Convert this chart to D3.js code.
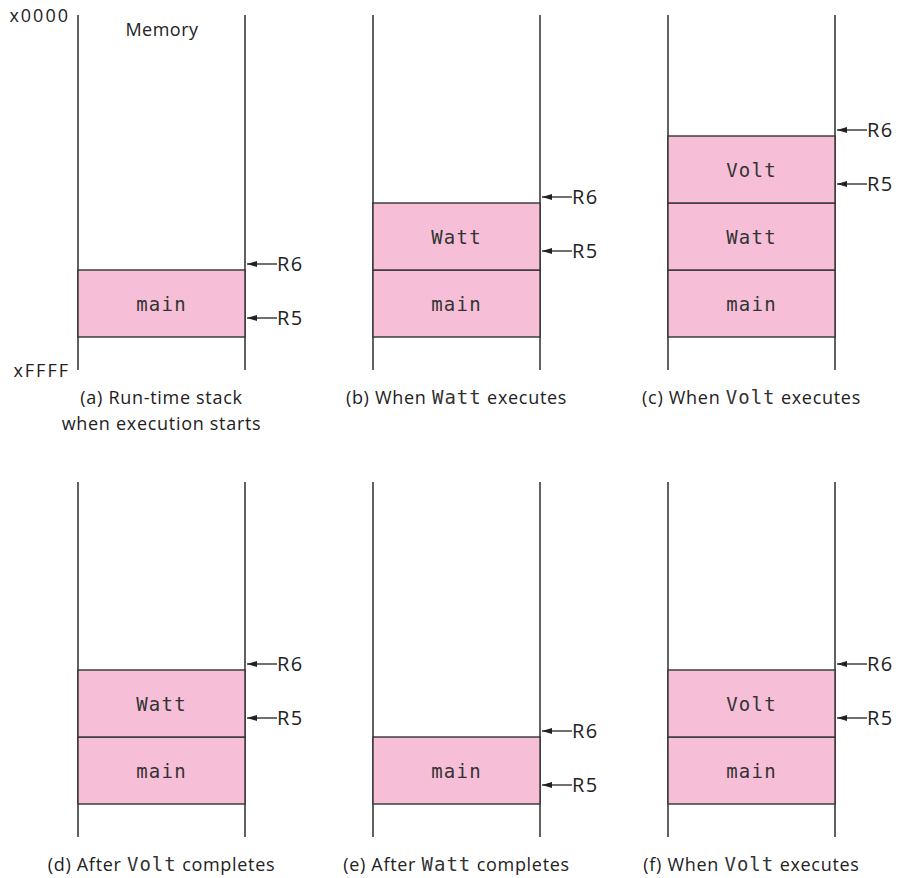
<!DOCTYPE html>
<html>
<head>
<meta charset="utf-8">
<script src="https://cdn.jsdelivr.net/npm/d3@7/dist/d3.min.js"></script>
<style>
  body { margin: 0; background: #fff; }
  .sans { font-family: "Open Sans", "Noto Sans", sans-serif; letter-spacing: 0.7px; }
  .mono { font-family: "DejaVu Sans Mono", monospace; letter-spacing: 1px; }
</style>
</head>
<body>
<div id="chart"></div>
<script>
// panels in reading order, stack frames listed from the bottom up
var panelIds = ["a", "b", "c", "d", "e", "f"];
var stacks = [
  ["main"],
  ["main", "Watt"],
  ["main", "Watt", "Volt"],
  ["main", "Watt"],
  ["main"],
  ["main", "Volt"]
];
// caption pieces: [text, isCode]
var captions = [
  [[["(a) Run-time stack", false]], [["when execution starts", false]]],
  [[["(b) When ", false], ["Watt", true], [" executes", false]]],
  [[["(c) When ", false], ["Volt", true], [" executes", false]]],
  [[["(d) After ", false], ["Volt", true], [" completes", false]]],
  [[["(e) After ", false], ["Watt", true], [" completes", false]]],
  [[["(f) When ", false], ["Volt", true], [" executes", false]]]
];
var pointers = ["R6", "R5"];
var addrLabels = ["x0000", "xFFFF"];

(function(){
  var width = 898, height = 878;
  var colW = 167;
  var lineColor = "#3a3a3a";
  var pink = "#f6bfd7";

  var svg = d3.select("#chart").append("svg")
    .attr("width", width).attr("height", height);

  // arrowhead drawn pointing along the line, line runs right-to-left
  svg.append("defs").append("marker")
    .attr("id", "head")
    .attr("viewBox", "0 0 10 6")
    .attr("refX", 10).attr("refY", 3)
    .attr("markerWidth", 10).attr("markerHeight", 6)
    .attr("markerUnits", "userSpaceOnUse")
    .attr("orient", "auto")
    .append("path").attr("d", "M0,0L10,3L0,6Z").attr("fill", "#222");

  var colX = d3.scaleLinear().domain([0, 2]).range([78, 668]);
  var rowY = d3.scaleLinear().domain([0, 1]).range([0, 467]);
  // slot index (from bottom of stack) -> y in panel
  var slotY = d3.scaleLinear().domain([0, 1]).range([337, 270]);
  var memTop = 15, memBottom = 370;

  var panels = svg.selectAll(".panel")
    .data(panelIds)
    .enter().append("g")
    .attr("class", "panel")
    .attr("transform", function(d, i){
      return "translate(" + colX(i % 3) + "," + rowY(Math.floor(i / 3)) + ")";
    });

  // memory boundaries
  panels.selectAll(".wall")
    .data([0, colW])
    .enter().append("line")
    .attr("x1", function(d){ return d; }).attr("x2", function(d){ return d; })
    .attr("y1", memTop).attr("y2", memBottom)
    .attr("stroke", lineColor).attr("stroke-width", 1.6);

  // frames
  panels.each(function(d, i){
    var g = d3.select(this);
    var frames = stacks[i];
    var fr = g.selectAll(".frame")
      .data(frames)
      .enter().append("g").attr("class", "frame");
    fr.append("rect")
      .attr("x", 0).attr("width", colW)
      .attr("y", function(f, k){ return slotY(k + 1); })
      .attr("height", slotY(0) - slotY(1))
      .attr("fill", pink)
      .attr("stroke", "#333").attr("stroke-width", 1.4);
    fr.append("text")
      .attr("class", "mono")
      .attr("x", colW / 2)
      .attr("y", function(f, k){ return (slotY(k) + slotY(k + 1)) / 2 + 7; })
      .attr("text-anchor", "middle")
      .attr("font-size", "19px")
      .attr("fill", "#333")
      .style("letter-spacing", "1.2px")
      .text(function(f){ return f; });

    // R6 above top of stack, R5 inside top frame
    var n = frames.length;
    var ptrY = [slotY(n) - 6, slotY(n - 1) - 19];
    var ptr = g.selectAll(".ptr")
      .data(pointers)
      .enter().append("g").attr("class", "ptr");
    ptr.append("line")
      .attr("x1", colW + 32).attr("x2", colW + 2)
      .attr("y1", function(p, k){ return ptrY[k]; })
      .attr("y2", function(p, k){ return ptrY[k]; })
      .attr("stroke", "#222").attr("stroke-width", 1.3)
      .attr("marker-end", "url(#head)");
    ptr.append("text")
      .attr("class", "sans")
      .attr("x", colW + 32)
      .attr("y", function(p, k){ return ptrY[k] + 7; })
      .attr("font-size", "20px")
      .attr("fill", "#222")
      .style("letter-spacing", "1.5px")
      .text(function(p){ return p; });

    // captions
    captions[i].forEach(function(line, li){
      var t = g.append("text")
        .attr("class", "sans")
        .attr("x", colW / 2)
        .attr("y", 404 + li * 26)
        .attr("text-anchor", "middle")
        .attr("font-size", "18px")
        .attr("fill", "#222");
      line.forEach(function(part){
        t.append("tspan")
          .attr("class", part[1] ? "mono" : "sans")
          .attr("font-size", part[1] ? "19px" : "18px")
          .attr("fill", part[1] ? "#333" : "#222")
          .text(part[0]);
      });
    });
  });

  // address labels and title on first panel
  var first = svg.select(".panel");
  first.selectAll(".addr")
    .data(addrLabels)
    .enter().append("text")
    .attr("class", "sans")
    .attr("x", -8)
    .attr("y", function(d, i){ return i === 0 ? memTop + 7 : memBottom + 7; })
    .attr("text-anchor", "end")
    .attr("font-size", "18px")
    .attr("fill", "#222")
    .style("letter-spacing", "2px")
    .text(function(d){ return d; });
  first.append("text")
    .attr("class", "sans")
    .attr("x", 84).attr("y", 36)
    .attr("text-anchor", "middle")
    .attr("font-size", "18px")
    .attr("fill", "#222")
    .style("letter-spacing", "0.5px")
    .text("Memory");
})();
</script>
</body>
</html>
